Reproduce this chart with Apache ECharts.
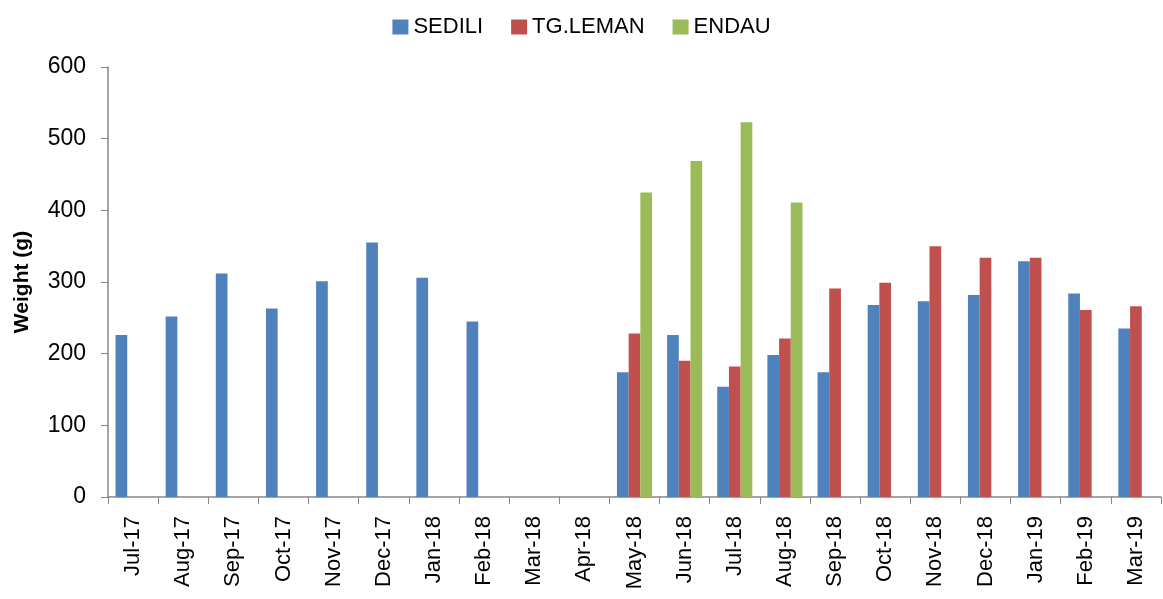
<!DOCTYPE html>
<html>
<head>
<meta charset="utf-8">
<script src="https://cdn.jsdelivr.net/npm/echarts@6/dist/echarts.min.js"></script>
<style>
  html, body { margin: 0; padding: 0; background: #fff; }
  #chart { width: 1163px; height: 599px; }
</style>
</head>
<body>
<div id="chart"></div>
<script>
// months on the x axis
var months = ['Jul-17', 'Aug-17', 'Sep-17', 'Oct-17', 'Nov-17', 'Dec-17', 'Jan-18', 'Feb-18',
  'Mar-18', 'Apr-18', 'May-18', 'Jun-18', 'Jul-18', 'Aug-18', 'Sep-18', 'Oct-18', 'Nov-18',
  'Dec-18', 'Jan-19', 'Feb-19', 'Mar-19'];

// weight (g) per station, null = no sample
var sedili = [226, 252, 312, 263, 301, 355, 306, 245, null, null, 174, 226, 154, 198, 174, 268, 273, 282, 329, 284, 235];
var tgLeman = [null, null, null, null, null, null, null, null, null, null, 228, 190, 182, 221, 291, 299, 350, 334, 334, 261, 266];
var endau = [null, null, null, null, null, null, null, null, null, null, 425, 469, 523, 411, null, null, null, null, null, null, null];

var yTicks = [0, 100, 200, 300, 400, 500, 600];

var chart = echarts.init(document.getElementById('chart'));
var font = 'Liberation Sans, sans-serif';
var axisColor = '#868686';

var option = {
  animation: false,
  textStyle: { fontFamily: font },
  legend: {
    top: 11,
    left: 'center',
    icon: 'rect',
    itemWidth: 16,
    itemHeight: 15,
    itemGap: 28,
    textStyle: { fontSize: 22, color: '#000', fontFamily: font },
    data: ['SEDILI', 'TG.LEMAN', 'ENDAU']
  },
  grid: { left: 108, right: 2, top: 67, bottom: 102, containLabel: false, outerBoundsMode: 'none' },
  xAxis: {
    type: 'category',
    data: months,
    axisLine: { lineStyle: { color: axisColor, width: 1.5 } },
    axisTick: { show: true, length: 7, lineStyle: { color: axisColor } },
    axisLabel: { rotate: 90, fontSize: 22, color: '#000', margin: 19, fontFamily: font }
  },
  yAxis: {
    type: 'value',
    min: yTicks[0],
    max: yTicks[yTicks.length - 1],
    interval: 100,
    name: 'Weight (g)',
    nameLocation: 'middle',
    nameGap: 75,
    nameTextStyle: { fontSize: 21, fontWeight: 'bold', color: '#000', fontFamily: font },
    axisLine: { show: true, lineStyle: { color: axisColor, width: 1.5 } },
    axisTick: { show: true, length: 7, lineStyle: { color: axisColor } },
    splitLine: { show: false },
    axisLabel: { fontSize: 23, color: '#000', margin: 22, fontFamily: font }
  },
  series: [
    { name: 'SEDILI', type: 'bar', data: sedili, barGap: 0, barCategoryGap: '30%',
      itemStyle: { color: '#4F81BD' } },
    { name: 'TG.LEMAN', type: 'bar', data: tgLeman, barGap: 0, barCategoryGap: '30%',
      itemStyle: { color: '#C0504D' } },
    { name: 'ENDAU', type: 'bar', data: endau, barGap: 0, barCategoryGap: '30%',
      itemStyle: { color: '#9BBB59' } }
  ]
};

chart.setOption(option);
</script>
</body>
</html>
